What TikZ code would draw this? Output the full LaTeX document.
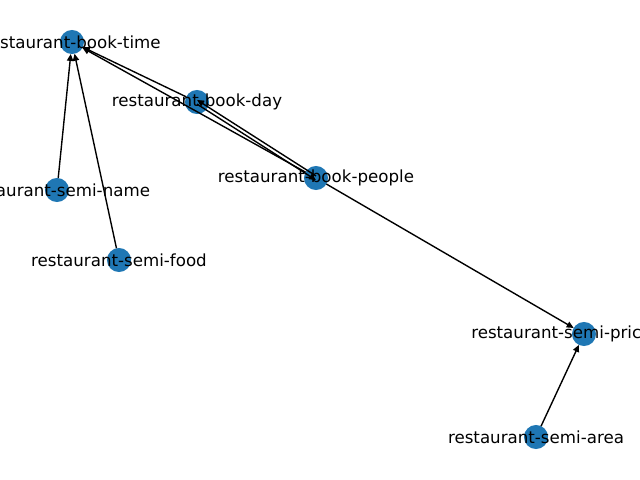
\documentclass[tikz,border=0pt]{standalone}
\usepackage{fontspec}
\setmainfont{DejaVu Sans}
\usetikzlibrary{arrows.meta}
\definecolor{nodeblue}{HTML}{1F77B4}
\begin{document}
\begin{tikzpicture}[x=0.72pt,y=-0.72pt,
  vertex/.style={circle,fill=nodeblue,minimum size=17.3pt,inner sep=0pt,outer sep=0pt},
  lbl/.style={font=\fontsize{12}{14}\selectfont,inner sep=0pt,text=black},
  edge/.style={draw=black,line width=1pt,-{Triangle[length=5pt,width=4.5pt]}}]
\useasboundingbox (0,0) rectangle (640,480);
\node[vertex] (time) at (72,42) {};
\node[vertex] (day) at (197,102) {};
\node[vertex] (name) at (57,190) {};
\node[vertex] (people) at (316,178) {};
\node[vertex] (food) at (119,260) {};
\node[vertex] (price) at (584,334) {};
\node[vertex] (area) at (536,437) {};
\draw[edge] (name) -- (time);
\draw[edge] (food) -- (time);
\draw[edge] (day) -- (time);
\draw[edge] (people) -- (time);
\draw[edge] ([yshift=-1.5pt]day.center) to ([yshift=-1.5pt]people.center);
\draw[edge] ([yshift=1.5pt]people.center) to ([yshift=1.5pt]day.center);
\draw[edge] (people) -- (price);
\draw[edge] (area) -- (price);
\node[lbl] (ltime) at (time) {restaurant-book-time};
\node[lbl] (lday) at (day) {restaurant-book-day};
\node[lbl] (lname) at (name) {restaurant-semi-name};
\node[lbl] (lpeople) at (people) {restaurant-book-people};
\node[lbl] (lfood) at (food) {restaurant-semi-food};
\node[lbl,anchor=west] (lprice) at (471,334) {restaurant-semi-price};
\node[lbl] (larea) at (area) {restaurant-semi-area};
\end{tikzpicture}
\end{document}
